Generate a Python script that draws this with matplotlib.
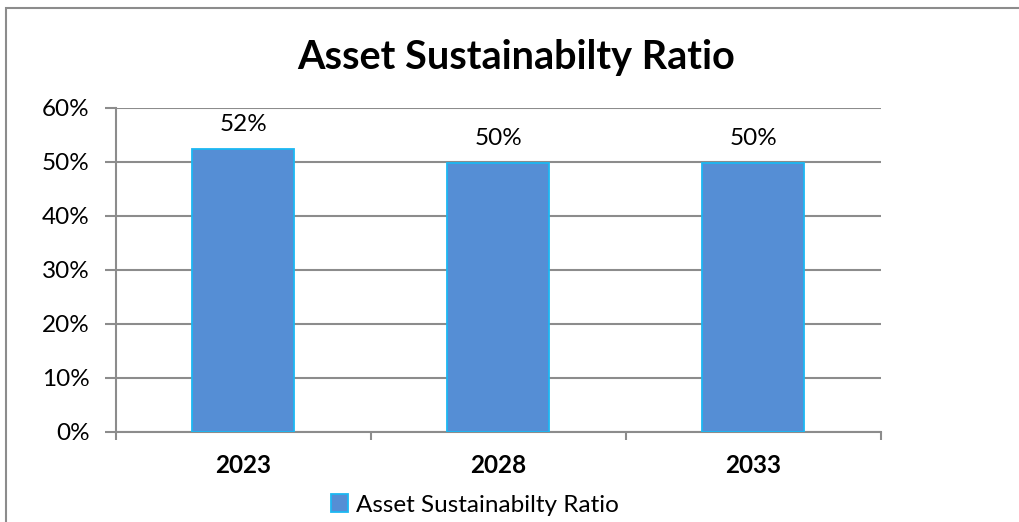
import matplotlib.pyplot as plt
import matplotlib.patches as patches
from matplotlib.ticker import PercentFormatter, FixedLocator

years = ['2023', '2028', '2033']
ratio = [0.524, 0.498, 0.498]
series_name = 'Asset Sustainabilty Ratio'

plt.rcParams['font.family'] = ['Lato', 'DejaVu Sans']
grey = '#8c8c8c'
fs = 17.5

fig = plt.figure(figsize=(10.2, 5.22), dpi=100)
ax = fig.add_axes([116 / 1020, 1 - 432 / 522, 765 / 1020, 324 / 522])

x = range(len(years))
bars = ax.bar(x, ratio, width=0.4, color='#558ed5', edgecolor='#1cb8f2',
              linewidth=1.3, label=series_name, zorder=3)
for b, v in zip(bars, ratio):
    ax.text(b.get_x() + b.get_width() / 2, v + 0.026, f'{v:.0%}',
            ha='center', va='bottom', fontsize=fs)

ax.set_xlim(-0.5, len(years) - 0.5)
ax.set_ylim(0, 0.6)
ax.set_yticks([i / 10 for i in range(7)])
ax.yaxis.set_major_formatter(PercentFormatter(1.0, decimals=0))
ax.set_xticks(list(x))
ax.set_xticklabels(years, fontweight='bold', fontsize=fs)
ax.xaxis.set_minor_locator(FixedLocator([i - 0.5 for i in range(len(years) + 1)]))
ax.tick_params(axis='x', which='major', length=0, pad=16)
ax.tick_params(axis='x', which='minor', length=6, width=1.5, color=grey)
ax.tick_params(axis='y', length=8, width=1.5, color=grey, labelsize=fs, pad=11)
ax.grid(axis='y', color=grey, linewidth=1.5, zorder=0)

for side in ('top', 'right'):
    ax.spines[side].set_visible(False)
for side in ('left', 'bottom'):
    ax.spines[side].set_color(grey)
    ax.spines[side].set_linewidth(1.5)

fig.text(516 / 1020, 1 - 57 / 522, series_name, ha='center', va='center',
         fontsize=28.5, fontweight='bold')

fig.legend(handles=[bars], labels=[series_name], loc='center',
           bbox_to_anchor=(475 / 1020, 1 - 505 / 522), frameon=False,
           fontsize=fs, handlelength=0.7, handleheight=0.7, handletextpad=0.35)

# outer chart frame, only its top and left edges fall inside the image
fig.patches.append(patches.Rectangle((6 / 1020, -0.2), 1.2, 1.2 - 8 / 522,
                                     transform=fig.transFigure, fill=False,
                                     edgecolor=grey, linewidth=1.5))

fig.savefig('out.png', dpi=100)
